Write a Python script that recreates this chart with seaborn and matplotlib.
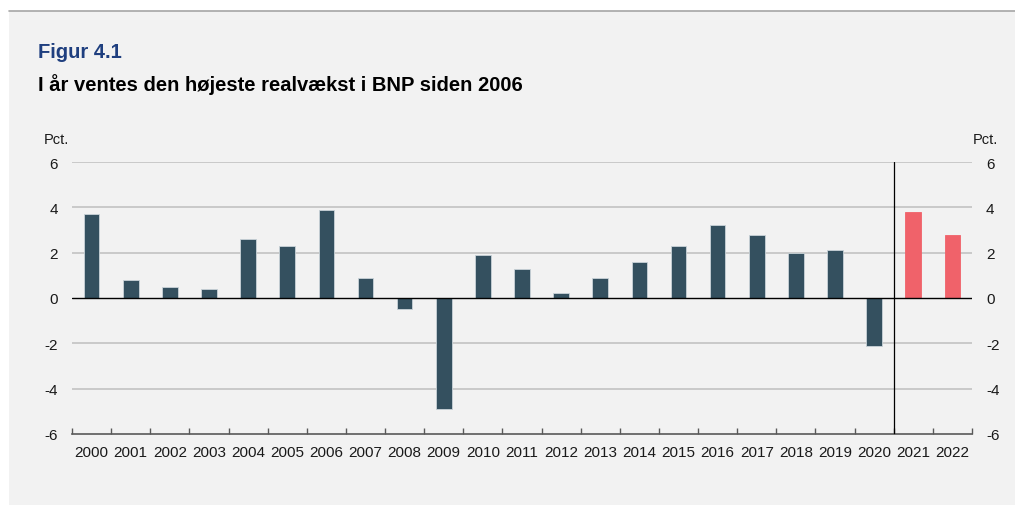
import matplotlib
matplotlib.use("Agg")
import matplotlib.pyplot as plt
import matplotlib.patches as mpatches
import seaborn as sns
import pandas as pd

# ── Data ──────────────────────────────────────────────────────
years = [str(y) for y in range(2000, 2023)]
growth = [3.7, 0.8, 0.5, 0.4, 2.6, 2.3, 3.9, 0.9, -0.5, -4.9,
          1.9, 1.3, 0.2, 0.9, 1.6, 2.3, 3.2, 2.8, 2.0, 2.1,
          -2.1, 3.8, 2.8]
forecast_years = ["2021", "2022"]
y_ticks = [-6, -4, -2, 0, 2, 4, 6]

title = "Figur 4.1"
subtitle = "I år ventes den højeste realvækst i BNP siden 2006"
unit = "Pct."

DARK = "#34505f"
RED = "#f0626a"
BG = "#f2f2f2"

df = pd.DataFrame({"year": years, "growth": growth})
palette = {y: (RED if y in forecast_years else DARK) for y in years}

sns.set_theme(style="white")
plt.rcParams["font.family"] = ["Liberation Sans", "DejaVu Sans"]

fig = plt.figure(figsize=(10.15, 5.06), dpi=100)
fig.patch.set_facecolor("white")
# grey panel with thin top rule
panel = mpatches.Rectangle((9 / 1015, 0), 1, 1 - 12 / 506,
                           transform=fig.transFigure,
                           facecolor=BG, edgecolor="none", zorder=-10)
fig.add_artist(panel)
fig.add_artist(plt.Line2D([9 / 1015, 1], [1 - 12 / 506] * 2,
                          transform=fig.transFigure, color="#a6a6a6", lw=1.2,
                          zorder=-5))

ax = fig.add_axes([72 / 1015, 71 / 506, 900 / 1015, 272 / 506])
ax.set_zorder(5)
ax.set_facecolor(BG)

sns.barplot(data=df, x="year", y="growth", hue="year", palette=palette,
            width=0.4, legend=False, ax=ax, saturation=1,
            edgecolor="#c9d3d8", linewidth=0.6, zorder=3)
for patch, y in zip(ax.patches, years):
    if y in forecast_years:
        patch.set_edgecolor(RED)

ax.set_ylim(-6, 6)
ax.set_xlim(-0.5, len(years) - 0.5)
ax.set_yticks(y_ticks)
ax.set_yticklabels([str(t) for t in y_ticks])
for t in y_ticks:
    if t not in (0, -6):
        ax.axhline(t, color="#bfbfbf", lw=1.1, zorder=1)
ax.axhline(0, color="black", lw=1.0, zorder=4)
ax.axvline(len(years) - len(forecast_years) - 0.5, color="black", lw=0.9, zorder=4)

ax.set_xlabel("")
ax.set_ylabel("")
for s in ["top", "left", "right"]:
    ax.spines[s].set_visible(False)
ax.spines["bottom"].set_color("#595959")
ax.spines["bottom"].set_linewidth(1.2)

ax.tick_params(axis="y", which="both", length=0, labelsize=11,
               left=False, right=False,
               labelleft=True, labelright=True, pad=10, colors="#1a1a1a")
ax.tick_params(axis="x", which="major", length=0, labelsize=11, pad=8,
               colors="#1a1a1a")
ax.set_xticks([i - 0.5 for i in range(len(years) + 1)], minor=True)
ax.tick_params(axis="x", which="minor", bottom=True, direction="in", length=4,
               width=1, color="#595959")

ax.text(-0.003, 1.06, unit, transform=ax.transAxes, ha="right", va="bottom",
        fontsize=10.5, color="#1a1a1a")
ax.text(1.029, 1.06, unit, transform=ax.transAxes, ha="right", va="bottom",
        fontsize=10.5, color="#1a1a1a")

fig.text(38 / 1015, 1 - 58 / 506, title, fontsize=14.5, fontweight="bold",
         color="#1f3f7f", ha="left", va="baseline")
fig.text(38 / 1015, 1 - 91 / 506, subtitle, fontsize=14.5, fontweight="bold",
         color="black", ha="left", va="baseline")

plt.savefig("out.png", dpi=100, facecolor=fig.get_facecolor())
plt.close()
